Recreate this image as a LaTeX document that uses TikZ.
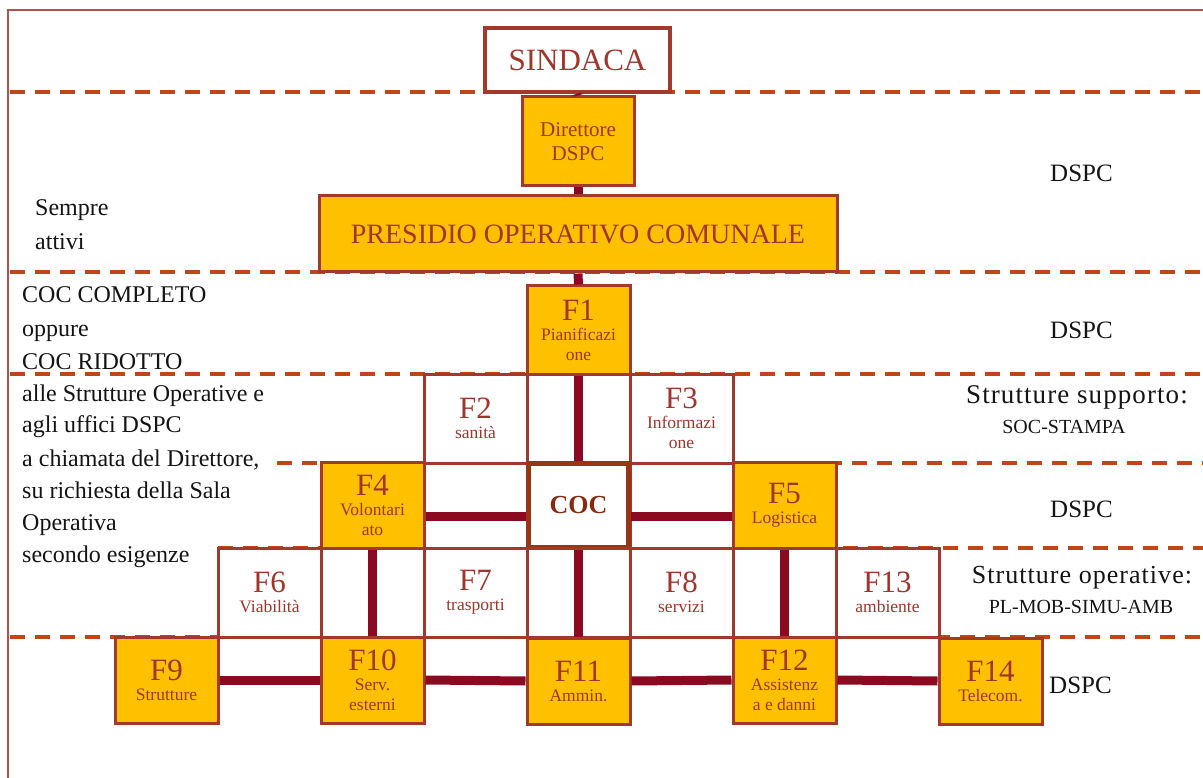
\documentclass[tikz,border=0pt]{standalone}
\usepackage{fontspec}
\setmainfont{Liberation Serif}
\newfontfamily\spacedfont[LetterSpace=4]{Liberation Serif}
\definecolor{goldc}{HTML}{FFC000}
\definecolor{boxc}{HTML}{A3392A}
\definecolor{txtc}{HTML}{A0352B}
\definecolor{connc}{HTML}{8B0A22}
\definecolor{dashc}{HTML}{C0461A}
\definecolor{framec}{HTML}{B3524A}
\definecolor{cocc}{HTML}{9B3414}
\newcommand\Flab{\fontsize{31}{33}\selectfont}
\newcommand\Fsub{\fontsize{17.5}{20}\selectfont}
\begin{document}
\begin{tikzpicture}[x=1pt,y=-1pt,
  cell/.style={draw=boxc, line width=3pt, fill=white, minimum width=103pt, minimum height=89pt, inner sep=0pt, text=txtc, align=center, font=\Fsub},
  gold/.style={cell, fill=goldc},
  conn/.style={draw=connc, line width=9pt},
  sep/.style={draw=dashc, line width=3.5pt, dash pattern=on 15pt off 10pt},
  lbl/.style={font=\fontsize{24}{24}\selectfont, anchor=base west, inner sep=0pt, text=black!92},
  rlbl/.style={font=\fontsize{25}{25}\selectfont, anchor=base, inner sep=0pt, text=black!92},
  slbl/.style={font=\fontsize{20}{20}\selectfont, anchor=base, inner sep=0pt, text=black!92}
]
\useasboundingbox (0,0) rectangle (1203,778);
% frame
\draw[framec, line width=1.5pt] (8,778) -- (8,10) -- (1203,10);
% dashed separators
\draw[sep] (10,92) -- (1203,92);
\draw[sep] (10,272) -- (1203,272);
\draw[sep] (10,374) -- (1203,374);
\draw[sep] (277,463) -- (1203,463);
\draw[sep] (218,548) -- (1203,548);
\draw[sep] (10,637) -- (1203,637);

% top boxes
\node[cell, minimum width=185pt, minimum height=64pt, line width=3.5pt, font=\fontsize{31}{31}\selectfont] (sind) at (577.5,60) {SINDACA};
\node[gold, minimum width=112pt, minimum height=89pt, font=\fontsize{21}{24}\selectfont] (dir) at (578,141.5) {Direttore\\DSPC};
\node[gold, minimum width=518pt, minimum height=76pt, font=\fontsize{28}{28}\selectfont] (poc) at (578,234) {PRESIDIO OPERATIVO COMUNALE};

% row 1
\node[gold, minimum height=88pt] (f1) at (578.5,330) {{\Flab F1}\\Pianificazi\\one};
% row 2
\node[cell] (f2) at (475.5,418.5) {{\Flab F2}\\sanità};
\node[cell] (c2m) at (578.5,418.5) {};
\node[cell] (f3) at (681.5,418.5) {{\Flab F3}\\Informazi\\one};
% row 3
\node[gold, minimum height=86pt] (f4) at (372.5,505.5) {{\Flab F4}\\Volontari\\ato};
\node[cell, minimum height=85pt] (c3l) at (475.5,505.5) {};
\node[cell, minimum height=85pt] (c3r) at (681.5,505.5) {};
\node[gold, minimum height=86pt] (f5) at (784.5,505.5) {{\Flab F5}\\Logistica};
\node[cell, minimum width=100pt, minimum height=84pt, draw=cocc, line width=5pt, font=\bfseries\fontsize{26}{26}\selectfont, text=cocc!85!black] (coc) at (578.5,505.5) {COC};
% row 4
\node[cell] (f6) at (269.5,592.5) {{\Flab F6}\\Viabilità};
\node[cell] (c4a) at (372.5,592.5) {};
\node[cell] (f7) at (475.5,592.5) {{\Flab F7}\\trasporti};
\node[cell] (c4b) at (578.5,592.5) {};
\node[cell] (f8) at (681.5,592.5) {{\Flab F8}\\servizi};
\node[cell] (c4c) at (784.5,592.5) {};
\node[cell] (f13) at (887.5,592.5) {{\Flab F13}\\ambiente};
% row 5
\node[gold, minimum height=86pt] (f9) at (166.5,680) {{\Flab F9}\\Strutture};
\node[gold, minimum height=86pt] (f10) at (372.5,680) {{\Flab F10}\\Serv.\\esterni};
\node[gold, minimum height=86pt] (f11) at (578.5,681) {{\Flab F11}\\Ammin.};
\node[gold, minimum height=86pt] (f12) at (784.5,680) {{\Flab F12}\\Assistenz\\a e danni};
\node[gold, minimum height=86pt] (f14) at (990.5,681) {{\Flab F14}\\Telecom.};

% connectors
\draw[conn] (sind.south) -- (dir.north);
\draw[conn] (dir.south) -- (poc.north);
\draw[conn] (poc.south) -- (f1.north);
\draw[conn] (f1.south) -- (coc.north);
\draw[conn] ([yshift=-11pt]f4.east) -- ([yshift=-11pt]coc.west);
\draw[conn] ([yshift=-11pt]coc.east) -- ([yshift=-11pt]f5.west);
\draw[conn] (f4.south) -- (f10.north);
\draw[conn] (coc.south) -- (f11.north);
\draw[conn] (f5.south) -- (f12.north);
\draw[conn] (f9.east) -- (f10.west);
\draw[conn] (f10.east) -- (f11.west);
\draw[conn] (f11.east) -- (f12.west);
\draw[conn] (f12.east) -- (f14.west);

% left texts
\node[lbl] (t1) at (35,216) {Sempre};
\node[lbl] (t2) at (35,250) {attivi};
\node[lbl] (t3) at (22,303) {COC COMPLETO};
\node[lbl] (t4) at (22,337) {oppure};
\node[lbl] (t5) at (22,369) {COC RIDOTTO};
\node[lbl] (t6) at (22,401) {alle Strutture Operative e};
\node[lbl] (t7) at (22,432) {agli uffici DSPC};
\node[lbl] (t8) at (22,466) {a chiamata del Direttore,};
\node[lbl] (t9) at (22,498) {su richiesta della Sala};
\node[lbl] (t10) at (22,530) {Operativa};
\node[lbl] (t11) at (22,562) {secondo esigenze};

% right texts
\node[rlbl] (r1) at (1081.5,182) {DSPC};
\node[rlbl] (r2) at (1081.5,338) {DSPC};
\node[rlbl, font=\spacedfont\fontsize{27}{27}\selectfont] (r3) at (1077,403) {Strutture supporto:};
\node[slbl] (r4) at (1064,433) {SOC-STAMPA};
\node[rlbl] (r5) at (1081.5,517) {DSPC};
\node[rlbl, font=\spacedfont\fontsize{26}{26}\selectfont] (r6) at (1082,583) {Strutture operative:};
\node[slbl] (r7) at (1081,613) {PL-MOB-SIMU-AMB};
\node[rlbl, anchor=base west] (r8) at (1049,693) {DSPC};
\end{tikzpicture}
\end{document}
